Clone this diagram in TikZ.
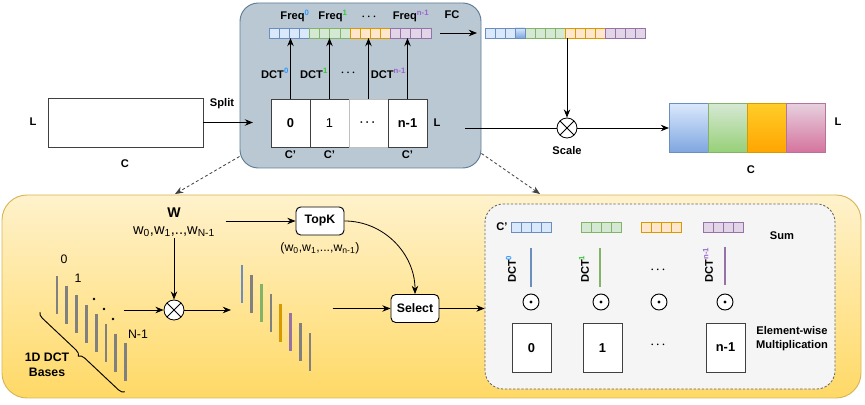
\documentclass[tikz,border=0pt]{standalone}
\usepackage{amsmath}
\usepackage{fontspec}
\setmainfont{Liberation Sans}
\usetikzlibrary{positioning, arrows.meta, calc, decorations.pathreplacing, shadows}

\definecolor{cBlueF}{HTML}{DAE8FC}   \definecolor{cBlueD}{HTML}{6C8EBF}
\definecolor{cGreenF}{HTML}{D5E8D4}  \definecolor{cGreenD}{HTML}{82B366}
\definecolor{cOrangeF}{HTML}{FFE6CC} \definecolor{cOrangeD}{HTML}{D79B00}
\definecolor{cPurpleF}{HTML}{E1D5E7} \definecolor{cPurpleD}{HTML}{9673A6}
\definecolor{outBlue}{HTML}{7EA6E0}  \definecolor{outGreen}{HTML}{97D077}
\definecolor{outOrangeT}{HTML}{FFCD28} \definecolor{outOrangeB}{HTML}{FFA500}
\definecolor{outPinkT}{HTML}{E6D0DE} \definecolor{outPinkB}{HTML}{D5739D}
\definecolor{outPinkD}{HTML}{B5739D}
\definecolor{grayBg}{HTML}{BAC8D3}   \definecolor{grayLine}{HTML}{5F7D95}
\definecolor{yellowTop}{HTML}{FFF2CC} \definecolor{yellowBot}{HTML}{FFD966}
\definecolor{yellowLine}{HTML}{D6B656}
\definecolor{innerBg}{HTML}{F5F5F5}
\definecolor{barGray}{HTML}{808080}
\definecolor{supBlue}{HTML}{3399FF} \definecolor{supGreen}{HTML}{33CC33}
\definecolor{supPurple}{HTML}{9966CC}

\newcommand{\upx}{0.03cm} % one pixel of the sketch

\tikzset{
    lbl/.style={font=\fontsize{9.5}{11}\selectfont\bfseries, inner sep=1pt},
    bignum/.style={font=\fontsize{11}{13}\selectfont\bfseries},
    txt/.style={font=\fontsize{10.5}{12}\selectfont, inner sep=1pt},
    box/.style={draw=black!75, fill=white, line width=0.8pt, inner sep=0, outer sep=0,
        minimum width={39*\upx}, minimum height={48*\upx}},
    arr/.style={-{Stealth[length=7pt,width=5.5pt]}, line width=0.7pt},
    dasharr/.style={arr, draw=black!75, dash pattern=on 2.5pt off 2pt},
    cellstrip/.style={inner sep=0, outer sep=0, minimum height={10*\upx},
        drop shadow={shadow xshift=1pt, shadow yshift=-1.2pt, opacity=0.25}},
    cell/.style={fill=c#1F, draw=c#1D, line width=0.6pt},
    outcell/.style={inner sep=0, outer sep=0, line width=0.8pt,
        minimum width={39*\upx}, minimum height={49*\upx}},
    bar/.style={line width=2.3pt, draw=#1},
    multnode/.style={circle, draw, fill=white, line width=0.7pt, minimum size=0.6cm, inner sep=0,
        path picture={\draw[line width=0.7pt]
            (path picture bounding box.north west) -- (path picture bounding box.south east)
            (path picture bounding box.north east) -- (path picture bounding box.south west);}},
    dotnode/.style={circle, draw, fill=white, line width=0.8pt, minimum size=0.48cm, inner sep=0,
        path picture={\fill[black] (path picture bounding box.center) circle (1.3pt);}},
    roundbox/.style={draw, fill=white, rounded corners=4pt, line width=0.8pt,
        font=\fontsize{10.5}{12}\selectfont\bfseries,
        minimum width={48*\upx}, minimum height={28*\upx}}
}

\begin{document}
\begin{tikzpicture}[x=0.03cm, y=-0.03cm]
    \useasboundingbox (0,0) rectangle (865,405);

    % ---------- top row ----------
    \node[box, minimum width={155*\upx}, minimum height={49*\upx}] (xin) at (125.5,122.5) {};
    \node[lbl] (xinL) at (33,122) {L};
    \node[lbl] (xinC) at (125,164) {C};
    \node[lbl] (splitlbl) at (222,104) {Split};

    \node[draw=grayLine, fill=grayBg, line width=0.8pt, rounded corners=0.55cm,
          minimum width={241*\upx}, minimum height={165*\upx}] (dctbox) at (360.5,85.5) {};

    \node[box, bignum] (part0) at (290.5,123) {0};
    \node[box, right=0pt of part0, font=\fontsize{11}{13}\selectfont] (part1) {1};
    \node[box, draw=gray!50, right=0pt of part1] (partd) {$\boldsymbol{\cdots}$};
    \node[box, bignum, right=0pt of partd] (partn) {n-1};
    \node[lbl, below=2pt of part0] (cp0) {C'};
    \node[lbl, below=2pt of part1] (cp1) {C'};
    \node[lbl, below=2pt of partn] (cpn) {C'};
    \node[lbl, right=4.5pt of partn] (partL) {L};

    \node[cellstrip, minimum width={162*\upx}] (freq) at (350,33) {};
    \foreach \col [count=\k from 0] in {Blue,Green,Orange,Purple}
        \foreach \j in {0,...,3}
            \draw[cell=\col] ($(freq.west)+({(4*\k+\j)*10.125},-5)$) rectangle ++(10.125,10);

    \draw[arr] (part0.north) -- node[lbl, left, pos=0.42] {DCT\textsuperscript{\textcolor{supBlue}{0}}} (part0.north |- freq.south);
    \draw[arr] (part1.north) -- node[lbl, left, pos=0.42] {DCT\textsuperscript{\textcolor{supGreen}{1}}} (part1.north |- freq.south);
    \draw[arr] (partd.north) -- node[lbl, left=8pt, pos=0.42] {$\boldsymbol{\cdots}$} (partd.north |- freq.south);
    \draw[arr] (partn.north) -- node[lbl, left, pos=0.42] {DCT\textsuperscript{\textcolor{supPurple}{n-1}}} (partn.north |- freq.south);

    \node[lbl] (freq0) at (295,16) {Freq\textsuperscript{\textcolor{supBlue}{0}}};
    \node[lbl] (freq1) at (333,16) {Freq\textsuperscript{\textcolor{supGreen}{1}}};
    \node[lbl] (freqd) at (370,17) {$\boldsymbol{\cdots}$};
    \node[lbl] (freqn) at (411,16) {Freq\textsuperscript{\textcolor{supPurple}{n-1}}};

    \draw[arr] (xin.east) -- ($(xin.east)+(50,0)$);

    % FC and scale
    \node[cellstrip, minimum width={160*\upx}] (fc) at (565,33) {};
    \foreach \col [count=\k from 0] in {Blue,Green,Orange,Purple}
        \foreach \j in {0,...,3}
            \draw[cell=\col] ($(fc.west)+({(4*\k+\j)*10},-5)$) rectangle ++(10,10);
    \draw[draw=cBlueD, line width=0.6pt, top color=cBlueF, bottom color=outBlue]
        ($(fc.west)+(30,-5)$) rectangle ++(10,10);
    \node[lbl] (fclbl) at (452,15) {FC};
    \draw[arr] ($(freq.east)+(9,0)$) -- ($(fc.west)+(-8,0)$);

    \node[multnode] (scale) at (567,128) {};
    \node[lbl, below=6pt of scale] (scalelbl) {Scale};
    \draw[arr] (fc.south -| scale) -- (scale.north);
    \coordinate (scalein) at (465,128);
    \draw[line width=0.7pt] (scalein) -- (scale.west);

    \node[outcell, draw=cBlueD, top color=cBlueF, bottom color=outBlue] (out0) at (688.5,128) {};
    \node[outcell, draw=cGreenD, top color=cGreenF, bottom color=outGreen, right=0pt of out0] (out1) {};
    \node[outcell, draw=cOrangeD, top color=outOrangeT, bottom color=outOrangeB, right=0pt of out1] (out2) {};
    \node[outcell, draw=outPinkD, top color=outPinkT, bottom color=outPinkB, right=0pt of out2] (out3) {};
    \node[lbl] (outL) at (838,122) {L};
    \node[lbl] (outC) at (751,170) {C};
    \draw[arr] (scale.east) -- (out0.west);

    % ---------- bottom panel ----------
    \node[draw=yellowLine, top color=yellowTop, bottom color=yellowBot, line width=0.8pt,
          rounded corners=0.75cm, minimum width={859*\upx}, minimum height={203*\upx}] (yellow) at (431.5,296.5) {};
    \node[draw=black!60, fill=innerBg, line width=0.7pt, dash pattern=on 2pt off 1.5pt,
          rounded corners=0.55cm, minimum width={350*\upx}, minimum height={185*\upx}] (inner) at (660,296.5) {};

    \coordinate (ldrop) at (175,194);
    \coordinate (rdrop) at (540,194);
    \draw[dasharr] ($(dctbox.south west)+(0,-12)$) -- (ldrop);
    \draw[dasharr] ($(dctbox.south east)+(0,-15)$) -- (rdrop);

    \node[font=\fontsize{12}{14}\selectfont\bfseries] (wlbl) at (174,213) {W};
    \node[font=\fontsize{12.5}{14}\selectfont, inner sep=1pt] (wlist) at (174,232)
        {w\textsubscript{0},w\textsubscript{1},..,w\textsubscript{N-1}};
    \node[multnode] (mult) at (174,310) {};
    \draw[arr] (wlist.south) -- (mult.north);
    \draw[arr] ($(mult.west)+(-40,0)$) -- (mult.west);
    \coordinate (wbarsin) at (231,310);
    \draw[arr] (mult.east) -- (wbarsin);

    % 1D DCT bases
    \foreach \i in {0,...,7}
        \draw[bar=barGray] ({57+9.8*\i},{276+9.6*\i}) -- ++(0,38);
    \node[txt] (idx0) at (64,259) {0};
    \node[txt] (idx1) at (78,278) {1};
    \node[txt] (idxN) at (138,334) {N-1};
    \fill (94,299) circle (1.4) (104,309) circle (1.4) (113,319) circle (1.4);
    \draw[decorate, decoration={brace, mirror, amplitude=5pt}, line width=0.8pt] (40,312) -- (125,392);
    \node[lbl, align=center, font=\fontsize{10.5}{12.8}\selectfont\bfseries] (baseslbl) at (47,365) {1D DCT\\Bases};

    % weighted bases
    \foreach \c [count=\i from 0] in {cBlueD,barGray,cGreenD,barGray,cOrangeD,cPurpleD,barGray,barGray}
        \draw[bar=\c] ({242+9.7*\i},{265+9.7*\i}) -- ++(0,38);

    \node[roundbox] (topk) at (320,221) {TopK};
    \draw[arr] ($(topk.west)+(-70,0)$) -- (topk.west);
    \node[txt, below=5pt of topk] (klist)
        {(w\textsubscript{0},w\textsubscript{1},...,w\textsubscript{n-1})};
    \node[roundbox] (select) at (415,308.5) {Select};
    \draw[arr] (topk.east) to[out=0, in=90] (select.north);
    \draw[arr] ($(select.west)+(-58,0)$) -- (select.west);
    \draw[arr] (select.east) -- (select.east -| inner.west);

    % inside the sum box
    \node[lbl] (cplbl) at (502,227) {C'};
    \node[cellstrip, minimum width={40*\upx}] (cs0) at (531,227) {};
    \node[cellstrip, minimum width={40*\upx}] (cs1) at (601,227) {};
    \node[cellstrip, minimum width={40*\upx}] (cs2) at (661,227) {};
    \node[cellstrip, minimum width={40*\upx}] (cs3) at (723,227) {};
    \foreach \s/\col in {cs0/Blue,cs1/Green,cs2/Orange,cs3/Purple}
        \foreach \j in {0,...,3}
            \draw[cell=\col] ($(\s.west)+({\j*10},-5)$) rectangle ++(10,10);
    \node[lbl] (sumlbl) at (782,236) {Sum};

    \draw[bar=cBlueD, line width=2pt] (531,248) -- (531,287);
    \draw[bar=cGreenD, line width=2pt] (600,248) -- (600,287);
    \draw[bar=cPurpleD, line width=2pt] (725,247) -- (725,285);
    \node[lbl, rotate=90] (dctv0) at (511,269) {DCT\textsuperscript{\textcolor{supBlue}{0}}};
    \node[lbl, rotate=90] (dctv1) at (584,269) {DCT\textsuperscript{\textcolor{supGreen}{1}}};
    \node[lbl, rotate=90] (dctvn) at (708,265) {DCT\textsuperscript{\textcolor{supPurple}{n-1}}};
    \node[lbl] (dctvd) at (659,270) {$\boldsymbol{\cdots}$};

    \node[dotnode] (od0) at (531,302) {};
    \node[dotnode] (od1) at (601,302) {};
    \node[dotnode] (odd) at (659,302) {};
    \node[dotnode] (odn) at (725,302) {};

    \node[box, bignum, minimum height={49*\upx}] (blk0) at (531.5,348) {0};
    \node[box, bignum, minimum height={49*\upx}] (blk1) at (602.5,348) {1};
    \node[box, bignum, minimum height={49*\upx}] (blkn) at (725.5,347.5) {n-1};
    \node[lbl] (blkd) at (659,345) {$\boldsymbol{\cdots}$};
    \node[lbl, align=center, font=\fontsize{9.5}{12}\selectfont\bfseries] (ewlbl) at (792,339) {Element-wise\\Multiplication};
\end{tikzpicture}
\end{document}
